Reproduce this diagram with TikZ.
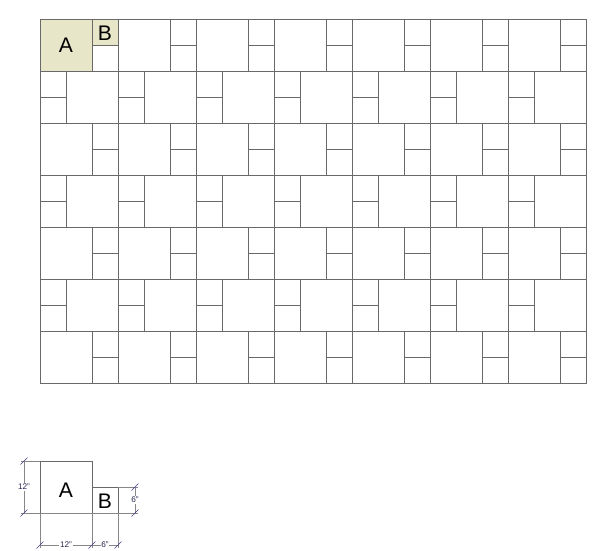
\documentclass[tikz,border=0pt]{standalone}
\usepackage{fontspec}
\setmainfont{Liberation Sans}
\usetikzlibrary{positioning}
\definecolor{tilefill}{RGB}{232,230,200}
\definecolor{tileline}{RGB}{105,105,105}
\definecolor{dimblue}{RGB}{60,60,130}
\begin{document}
\begin{tikzpicture}[x=0.03cm, y=-0.03cm, tile/.style={draw=tileline, line width=0.6pt},
	dimline/.style={draw=tileline!80, line width=0.4pt}, tick/.style={draw=dimblue, line width=0.5pt},
	dimtext/.style={fill=white, inner sep=0.6pt, text=dimblue!60!black, font=\fontsize{7}{8}\selectfont},
	tag/.style={inner sep=0pt, font=\fontsize{18}{19}\selectfont}]
		\useasboundingbox (0,0) rectangle (613,550);
		\fill[tilefill] (40,19) rectangle (92,71) (92,19) rectangle (118,45);
		\foreach \r in {0,...,6}{
			\pgfmathsetmacro{\yy}{19+52*\r}
			\pgfmathsetmacro{\ss}{mod(\r,2)==0 ? 52 : 0}
			\foreach \k in {0,...,6}{
				\draw[tile] ({40+78*\k},\yy) rectangle ++(78,52);
				\draw[tile] ({40+78*\k+\ss},\yy) rectangle ++(26,52);
				\draw[tile] ({40+78*\k+\ss},\yy+26) -- ++(26,0);
			}
		}
		\node[tag] (tagA) at (66,45) {A};
		\node[tag] (tagB) at (105,33) {B};
		
		\draw[tile] (40,461) rectangle (92,513) (92,487) rectangle (118,513);
		\node[tag] (keyA) at (66,490) {A};
		\node[tag] (keyB) at (105,501) {B};
		
		\coordinate (hA) at (40,461);
		\coordinate (hAx) at (21,461);
		\coordinate (bLx) at (21,513);
		\coordinate (bRx) at (138,513);
		\coordinate (hB) at (118,487);
		\coordinate (hBx) at (138,487);
		\coordinate (lTop) at (24,461);
		\coordinate (lBot) at (24,513);
		\coordinate (rTop) at (135,487);
		\coordinate (rBot) at (135,513);
		\coordinate (v1) at (40,513);
		\coordinate (v2) at (92,513);
		\coordinate (v3) at (118,513);
		\coordinate (v1x) at (40,548);
		\coordinate (v2x) at (92,548);
		\coordinate (v3x) at (118,548);
		\coordinate (d1) at (40,545);
		\coordinate (d2) at (92,545);
		\coordinate (d3) at (118,545);
		\draw[dimline] (hA) -- (hAx) (bLx) -- (bRx) (hB) -- (hBx)
			(v1) -- (v1x) (v2) -- (v2x) (v3) -- (v3x);
		\draw[dimline] (lTop) -- node[dimtext] (dimA) {12"} (lBot);
		\draw[dimline] (rTop) -- node[dimtext] (dimB) {6"} (rBot);
		\draw[dimline] (d1) -- node[dimtext] (dimAw) {12"} (d2);
		\draw[dimline] (d2) -- node[dimtext] (dimBw) {6"} (d3);
		\foreach \p in {lTop,lBot,rTop,rBot,d1,d2,d3}
			\draw[tick] (\p) ++(-3.5,3.5) -- ++(7,-7);
\end{tikzpicture}
\end{document}
